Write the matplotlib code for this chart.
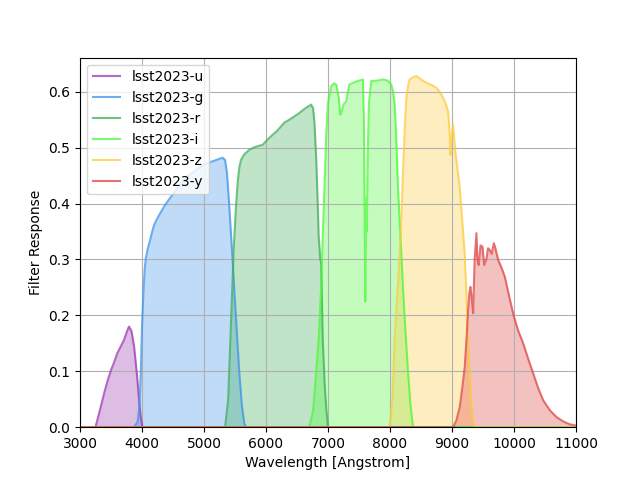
import numpy as np
import matplotlib
matplotlib.use("Agg")
import matplotlib.pyplot as plt

# filter curves (wavelength in Angstrom, response)
wl_u = [3000, 3250, 3320, 3390, 3450, 3500, 3550, 3600, 3660, 3710, 3760, 3790, 3830,
        3873, 3900, 3927, 3955, 3980, 4007, 11000]
resp_u = [0, 0, 0.03, 0.061, 0.085, 0.102, 0.116, 0.132, 0.145, 0.156, 0.172, 0.18, 0.172,
          0.144, 0.115, 0.084, 0.045, 0.018, 0, 0]

wl_g = [3000, 3873, 3930, 3960, 3980, 4000, 4024, 4045, 4062, 4090, 4120, 4160, 4196,
        4240, 4280, 4358, 4440, 4519, 4620, 4735, 4870, 5004, 5150, 5300, 5340, 5370,
        5390, 5408, 5450, 5489, 5530, 5570, 5610, 5650, 5680, 11000]
resp_g = [0, 0, 0.01, 0.04, 0.097, 0.18, 0.245, 0.285, 0.302, 0.318, 0.33, 0.348, 0.362,
          0.372, 0.38, 0.395, 0.408, 0.419, 0.435, 0.449, 0.46, 0.47, 0.476, 0.482, 0.478,
          0.455, 0.425, 0.395, 0.32, 0.245, 0.17, 0.097, 0.04, 0.007, 0, 0]

wl_r = [3000, 5340, 5390, 5435, 5480, 5516, 5545, 5570, 5597, 5650, 5731, 5800, 5880,
        5947, 6030, 6108, 6180, 6243, 6300, 6378, 6460, 6539, 6630, 6728, 6760, 6782,
        6810, 6836, 6850, 6862, 6875, 6890, 6916, 6945, 6970, 7000, 11000]
resp_r = [0, 0, 0.05, 0.186, 0.32, 0.395, 0.44, 0.465, 0.478, 0.488, 0.496, 0.5, 0.503,
          0.505, 0.515, 0.523, 0.53, 0.538, 0.545, 0.55, 0.556, 0.562, 0.57, 0.577, 0.57,
          0.544, 0.48, 0.395, 0.34, 0.323, 0.3, 0.293, 0.156, 0.08, 0.036, 0, 0]

wl_i = [3000, 6700, 6760, 6809, 6851, 6889, 6915, 6943, 6970, 6997, 7051, 7100, 7132,
        7175, 7197, 7220, 7250, 7294, 7320, 7347, 7450, 7563, 7579, 7590, 7601, 7608,
        7617, 7625, 7640, 7660, 7698, 7800, 7886, 7960, 8021, 8050, 8075, 8100, 8129,
        8170, 8210, 8250, 8291, 8330, 8372, 11000]
resp_i = [0, 0, 0.03, 0.099, 0.159, 0.249, 0.34, 0.428, 0.52, 0.577, 0.61, 0.615, 0.613,
          0.589, 0.559, 0.565, 0.577, 0.583, 0.6, 0.613, 0.618, 0.622, 0.547, 0.4, 0.225,
          0.3, 0.41, 0.35, 0.48, 0.58, 0.619, 0.62, 0.622, 0.62, 0.613, 0.6, 0.577, 0.52,
          0.428, 0.34, 0.249, 0.17, 0.099, 0.04, 0, 0]

wl_z = [3000, 7994, 8040, 8075, 8120, 8156, 8185, 8210, 8240, 8264, 8290, 8317, 8370,
        8425, 8500, 8587, 8670, 8749, 8800, 8857, 8900, 8937, 8960, 8976, 8995, 9018,
        9040, 9056, 9090, 9125, 9165, 9206, 9235, 9260, 9290, 9314, 9340, 9370, 11000]
resp_z = [0, 0, 0.05, 0.159, 0.24, 0.308, 0.38, 0.457, 0.54, 0.589, 0.61, 0.622, 0.626,
          0.628, 0.622, 0.616, 0.612, 0.607, 0.6, 0.589, 0.578, 0.565, 0.53, 0.487, 0.52,
          0.541, 0.51, 0.49, 0.46, 0.428, 0.37, 0.308, 0.23, 0.159, 0.09, 0.039, 0.012, 0, 0]

wl_y = [3000, 9018, 9070, 9125, 9165, 9206, 9235, 9260, 9280, 9297, 9320, 9341, 9365,
        9394, 9410, 9430, 9460, 9491, 9520, 9555, 9580, 9610, 9640, 9675, 9700, 9745,
        9800, 9852, 9920, 9998, 10070, 10148, 10230, 10310, 10390, 10472, 10580, 10687,
        10800, 10903, 11000]
resp_y = [0, 0, 0.012, 0.036, 0.07, 0.108, 0.16, 0.21, 0.24, 0.251, 0.23, 0.204, 0.3,
          0.347, 0.3, 0.29, 0.325, 0.323, 0.29, 0.3, 0.32, 0.317, 0.31, 0.329, 0.32, 0.299,
          0.285, 0.269, 0.235, 0.198, 0.172, 0.15, 0.122, 0.096, 0.07, 0.048, 0.03, 0.018,
          0.01, 0.005, 0.003]

bands = ["u", "g", "r", "i", "z", "y"]
wavelengths = [wl_u, wl_g, wl_r, wl_i, wl_z, wl_y]
responses = [resp_u, resp_g, resp_r, resp_i, resp_z, resp_y]
colors = ["#9b37b2", "#3e94ea", "#3fae5a", "#4cf83a", "#fccc3f", "#e04545"]

fig, ax = plt.subplots(figsize=(6.4, 4.8), dpi=100)

for band, wl, resp, c in zip(bands, wavelengths, responses, colors):
    wl = np.array(wl)
    resp = np.array(resp)
    ax.plot(wl, resp, color=c, alpha=0.75, lw=1.5, label="lsst2023-" + band)
    ax.fill_between(wl, 0, resp, color=c, alpha=0.33, lw=0)

ax.set_xlim(3000, 11000)
ax.set_ylim(0, 0.661)
ax.set_xlabel("Wavelength [Angstrom]")
ax.set_ylabel("Filter Response")
ax.grid(True)
ax.legend(loc="upper left")

plt.savefig("out.png", dpi=100)
plt.close()
